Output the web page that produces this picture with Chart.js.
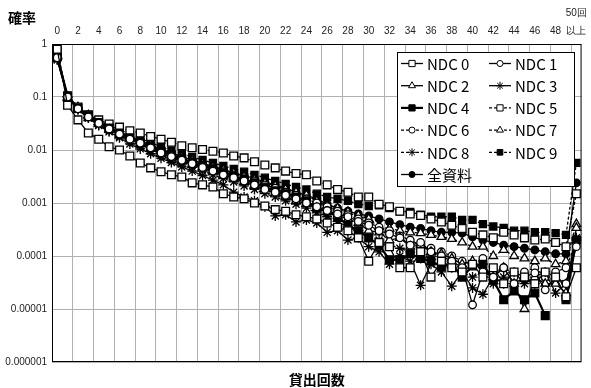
<!DOCTYPE html>
<html>
<head>
<meta charset="utf-8">
<script src="https://cdn.jsdelivr.net/npm/chart.js@4.4.1/dist/chart.umd.min.js"></script>
<style>
    html, body { margin: 0; padding: 0; background: #fff; }
    #wrap { width: 591px; height: 388px; }
</style>
</head>
<body>
<div id="wrap"><canvas id="chart" width="591" height="388"></canvas></div>
<script>
// 貸出回数 0..49 and 50回以上
const categories = ['0', '1', '2', '3', '4', '5', '6', '7', '8', '9', '10', '11', '12', '13', '14', '15', '16', '17', '18', '19',
    '20', '21', '22', '23', '24', '25', '26', '27', '28', '29', '30', '31', '32', '33', '34', '35', '36', '37', '38', '39',
    '40', '41', '42', '43', '44', '45', '46', '47', '48', '49', '50回以上'];

const xTickLabels = ['0', '', '2', '', '4', '', '6', '', '8', '', '10', '', '12', '', '14', '', '16', '', '18', '',
    '20', '', '22', '', '24', '', '26', '', '28', '', '30', '', '32', '', '34', '', '36', '', '38', '',
    '40', '', '42', '', '44', '', '46', '', '48', '', ['50回', '以上']];

const yTicks = [1, 0.1, 0.01, 0.001, 0.0001, 0.00001, 0.000001];
const yTickLabels = ['1', '0.1', '0.01', '0.001', '0.0001', '0.00001', '0.000001'];

const ndc0 = [0.8, 0.07, 0.037, 0.021, 0.016, 0.0115, 0.01, 0.0077, 0.0057, 0.0046, 0.0039, 0.0034, 0.0031, 0.0024, 0.0022, 0.002, 0.0015, 0.0013, 0.0012, 0.001,
    0.00088, 0.00075, 0.0007, 0.0006, 0.00055, 0.0005, 0.00042, 0.00035, 0.0003, 0.00022, 0.00008, 0.00018, 0.00015, 0.00006, 0.00006, 0.00012, 0.00004, 0.00008, 0.00006, 0.00005,
    0.00007, 0.00004, 0.00006, 0.00003, 0.00005, 0.00004, 0.00003, 0.00005, 0.00004, 0.000017, 0.00006];
const ndc1 = [0.55, 0.1, 0.06, 0.042, 0.032, 0.025, 0.02, 0.016, 0.0135, 0.011, 0.0088, 0.0075, 0.0064, 0.0055, 0.0047, 0.004, 0.0034, 0.003, 0.0026, 0.0022,
    0.0018, 0.0016, 0.0014, 0.0012, 0.001, 0.00085, 0.00072, 0.00062, 0.00055, 0.00045, 0.00038, 0.0003, 0.00026, 0.00022, 0.00016, 0.00018, 0.00012, 0.0001, 0.00008, 0.00006,
    0.000012, 0.00005, 0.00004, 0.00006, 0.00003, 0.00004, 0.000048, 0.000023, 0.00004, 0.00003, 0.00015];
const ndc2 = [0.6, 0.095, 0.058, 0.04, 0.031, 0.024, 0.019, 0.016, 0.013, 0.0105, 0.0085, 0.0072, 0.0062, 0.0053, 0.0045, 0.0039, 0.0033, 0.0029, 0.0025, 0.0021,
    0.0018, 0.0015, 0.0013, 0.0011, 0.00095, 0.0008, 0.00068, 0.00058, 0.0005, 0.00042, 0.0003, 0.00028, 0.0002, 0.00022, 0.00015, 0.00016, 0.00012, 0.00011, 0.00009, 0.00007,
    0.00008, 0.00005, 0.00004, 0.00006, 0.00003, 0.00001, 0.00004, 0.00003, 0.00003, 0.00002, 0.00034];
const ndc3 = [0.5, 0.1, 0.058, 0.04, 0.029, 0.022, 0.017, 0.013, 0.0105, 0.0085, 0.007, 0.0058, 0.0048, 0.004, 0.0033, 0.0027, 0.0022, 0.0016, 0.0013, 0.0011,
    0.00085, 0.00057, 0.0006, 0.00044, 0.00048, 0.00042, 0.00028, 0.0003, 0.0002, 0.00022, 0.00015, 0.00012, 0.00007, 0.0001, 0.00008, 0.000028, 0.00007, 0.00005, 0.000027, 0.00005,
    0.000025, 0.000019, 0.00004, 0.00003, 0.00005, 0.00003, 0.00004, 0.00005, 0.00002, 0.00003, 0.0002];
const ndc4 = [0.58, 0.105, 0.062, 0.044, 0.033, 0.026, 0.021, 0.017, 0.014, 0.0115, 0.0095, 0.008, 0.0068, 0.0058, 0.005, 0.0043, 0.0037, 0.0032, 0.0028, 0.0024,
    0.002, 0.0017, 0.0015, 0.0013, 0.0011, 0.0008, 0.0007, 0.00055, 0.00038, 0.0003, 0.00022, 0.00016, 0.000085, 0.000085, 0.00011, 0.00009, 0.00008, 0.000063, 0.00007, 0.00004,
    0.000065, 0.00007, 0.000035, 0.000015, 0.000022, 0.000015, 0.00002, 0.0000075, null, 0.000015, 0.0002];
const ndc5 = [0.75, 0.1, 0.065, 0.046, 0.037, 0.031, 0.027, 0.023, 0.021, 0.018, 0.016, 0.014, 0.012, 0.011, 0.0102, 0.0095, 0.0088, 0.0077, 0.0071, 0.006,
    0.0052, 0.0046, 0.004, 0.0036, 0.0034, 0.0026, 0.0022, 0.0018, 0.0016, 0.0013, 0.0013, 0.00095, 0.00085, 0.0007, 0.00062, 0.00058, 0.0005, 0.00044, 0.00038, 0.00033,
    0.00028, 0.00025, 0.00022, 0.00028, 0.00025, 0.00022, 0.0002, 0.00021, 0.00018, 0.00015, 0.0015];
const ndc6 = [0.6, 0.1, 0.063, 0.044, 0.033, 0.026, 0.021, 0.0175, 0.0145, 0.012, 0.0098, 0.0083, 0.007, 0.006, 0.0052, 0.0045, 0.0039, 0.0034, 0.003, 0.0026,
    0.0022, 0.0019, 0.0016, 0.0014, 0.0012, 0.001, 0.00085, 0.0007, 0.0006, 0.0005, 0.00042, 0.00035, 0.0003, 0.00024, 0.0002, 0.00016, 0.00014, 0.00012, 0.0001, 0.00008,
    0.00007, 0.00009, 0.00005, 0.00006, 0.00004, 0.00005, 0.00006, 0.00004, 0.00005, 0.00006, 0.00018];
const ndc7 = [0.62, 0.1, 0.064, 0.045, 0.034, 0.027, 0.022, 0.018, 0.015, 0.0125, 0.0102, 0.0087, 0.0074, 0.0064, 0.0055, 0.0048, 0.0042, 0.0037, 0.0032, 0.0028,
    0.0024, 0.0021, 0.0018, 0.0016, 0.0014, 0.0011, 0.0009, 0.0008, 0.00068, 0.00058, 0.0005, 0.00035, 0.00033, 0.0003, 0.00028, 0.00027, 0.00025, 0.00023, 0.00021, 0.00018,
    0.00015, 0.00015, 0.0001, 0.00013, 0.0001, 0.00009, 0.00008, 0.00009, 0.00007, 0.00008, 0.0004];
const ndc8 = [0.52, 0.1, 0.058, 0.041, 0.03, 0.023, 0.018, 0.0145, 0.0115, 0.0095, 0.0078, 0.0065, 0.0055, 0.0047, 0.004, 0.0034, 0.0029, 0.0025, 0.0021, 0.0018,
    0.0015, 0.0013, 0.0011, 0.00095, 0.0008, 0.00065, 0.00055, 0.00045, 0.00035, 0.0003, 0.00025, 0.0002, 0.00016, 0.00014, 0.00012, 0.00009, 0.0001, 0.00007, 0.00006, 0.00005,
    0.00004, 0.00005, 0.00003, 0.00004, 0.00003, 0.000035, 0.00003, 0.00004, 0.000035, 0.00003, 0.00022];
const ndc9 = [0.55, 0.105, 0.063, 0.046, 0.036, 0.029, 0.024, 0.02, 0.0165, 0.0138, 0.0115, 0.0098, 0.0085, 0.0074, 0.0065, 0.0057, 0.005, 0.0044, 0.0039, 0.0034,
    0.003, 0.0026, 0.0023, 0.002, 0.0018, 0.0015, 0.0013, 0.0012, 0.0011, 0.00096, 0.00088, 0.0009, 0.0008, 0.0007, 0.00068, 0.0006, 0.00055, 0.00055, 0.00055, 0.00048,
    0.00048, 0.0004, 0.00036, 0.00034, 0.0003, 0.0003, 0.00028, 0.00028, 0.00027, 0.00025, 0.0057];
const allData = [0.6, 0.105, 0.063, 0.045, 0.034, 0.027, 0.022, 0.018, 0.015, 0.0125, 0.0103, 0.0088, 0.0075, 0.0065, 0.0056, 0.0049, 0.0043, 0.0037, 0.0033, 0.0029,
    0.0025, 0.0022, 0.0019, 0.0016, 0.0014, 0.0012, 0.00095, 0.0008, 0.0007, 0.00062, 0.00057, 0.0005, 0.00044, 0.00039, 0.00035, 0.00033, 0.0003, 0.00028, 0.00028, 0.00027,
    0.00023, 0.0002, 0.00018, 0.00016, 0.00015, 0.00014, 0.00013, 0.00012, 0.00011, 0.00011, 0.0024];

const DASH = [3, 2];

function series(label, data, pointStyle, filled, dashed, radius, lineWidth) {
    return {
        label,
        data,
        pointStyle,
        pointRadius: radius,
        pointBorderWidth: 1.3,
        pointBackgroundColor: filled ? '#000' : '#fff',
        pointBorderColor: '#000',
        borderColor: '#000',
        borderWidth: lineWidth || 1.3,
        borderDash: dashed ? DASH : [],
        fill: false,
        tension: 0,
    };
}

const datasets = [
    series('NDC 0', ndc0, 'rect', false, false, 5.5),
    series('NDC 1', ndc1, 'circle', false, false, 3.8),
    series('NDC 2', ndc2, 'triangle', false, false, 5),
    series('NDC 3', ndc3, 'star', false, false, 5),
    series('NDC 4', ndc4, 'rect', true, false, 5.5, 2.2),
    series('NDC 5', ndc5, 'rect', false, true, 5.5),
    series('NDC 6', ndc6, 'circle', false, true, 3.8),
    series('NDC 7', ndc7, 'triangle', false, true, 5),
    series('NDC 8', ndc8, 'star', false, true, 5),
    series('NDC 9', ndc9, 'rect', true, true, 5),
    series('全資料', allData, 'circle', true, false, 3.8),
];

// legend box drawn inside the plot, two columns like the original
const framePlugin = {
    id: 'frame',
    afterDraw(chart) {
        const { ctx, chartArea } = chart;
        ctx.save();
        ctx.strokeStyle = '#000';
        ctx.lineWidth = 1;
        ctx.strokeRect(chartArea.left + 0.5, chartArea.top + 0.5, chartArea.width - 1, chartArea.height - 1);

        // axis titles
        ctx.fillStyle = '#000';
        ctx.font = 'bold 14px "Noto Sans CJK JP"';
        ctx.textBaseline = 'middle';
        ctx.textAlign = 'left';
        ctx.fillText('確率', 8, 18);
        ctx.textAlign = 'center';
        ctx.fillText('貸出回数', (chartArea.left + chartArea.right) / 2, 380);

        // legend
        const box = { x: 397, y: 52, w: 177, h: 134 };
        ctx.fillStyle = '#fff';
        ctx.fillRect(box.x, box.y, box.w, box.h);
        ctx.strokeRect(box.x + 0.5, box.y + 0.5, box.w, box.h);
        ctx.font = '15px "Noto Sans CJK JP"';
        ctx.textAlign = 'left';
        chart.data.datasets.forEach((ds, i) => {
            const col = i % 2;
            const row = Math.floor(i / 2);
            const lx = col === 0 ? 401 : 489;
            const cy = 63 + row * 22.2;
            ctx.strokeStyle = '#000';
            ctx.lineWidth = ds.borderWidth;
            ctx.setLineDash(ds.borderDash);
            ctx.beginPath();
            ctx.moveTo(lx, cy + 0.5);
            ctx.lineTo(lx + 22, cy + 0.5);
            ctx.stroke();
            ctx.setLineDash([]);
            ctx.lineWidth = 1;
            ctx.fillStyle = ds.pointBackgroundColor;
            ctx.strokeStyle = '#000';
            Chart.helpers.drawPoint(ctx, {
                pointStyle: ds.pointStyle,
                radius: ds.pointRadius * 0.8,
                borderWidth: 1,
                rotation: 0,
            }, lx + 11, cy + 0.5);
            ctx.fillStyle = '#000';
            ctx.fillText(ds.label, lx + 26, cy + 1);
        });
        ctx.restore();
    },
};

new Chart(document.getElementById('chart'), {
    type: 'line',
    data: { labels: categories, datasets },
    options: {
        responsive: false,
        animation: false,
        layout: { padding: { left: 0, right: 3, top: 0, bottom: 26 } },
        plugins: {
            legend: { display: false },
            tooltip: { enabled: false },
        },
        scales: {
            x: {
                type: 'category',
                position: 'top',
                offset: true,
                afterFit: (scale) => { scale.height = 44; },
                grid: {
                    offset: true,
                    drawTicks: false,
                    color: (c) => (c.index > 0 && c.index % 2 === 0 ? '#b0b0b0' : 'rgba(0,0,0,0)'),
                },
                border: { display: false },
                ticks: {
                    autoSkip: false,
                    maxRotation: 0,
                    padding: 4,
                    color: '#222',
                    font: { family: 'Liberation Sans', size: 10, lineHeight: 1.8 },
                    callback: (val, i) => xTickLabels[i],
                },
            },
            y: {
                type: 'logarithmic',
                min: 0.000001,
                max: 1,
                afterFit: (scale) => { scale.width = 52; },
                afterBuildTicks: (scale) => { scale.ticks = yTicks.map((v) => ({ value: v })); },
                grid: { drawTicks: false, color: '#b0b0b0' },
                border: { display: false },
                ticks: {
                    padding: 5,
                    color: '#222',
                    font: { family: 'Liberation Sans', size: 10 },
                    callback: (val) => yTickLabels[yTicks.indexOf(val)] ?? '',
                },
            },
        },
    },
    plugins: [framePlugin],
});
</script>
</body>
</html>
